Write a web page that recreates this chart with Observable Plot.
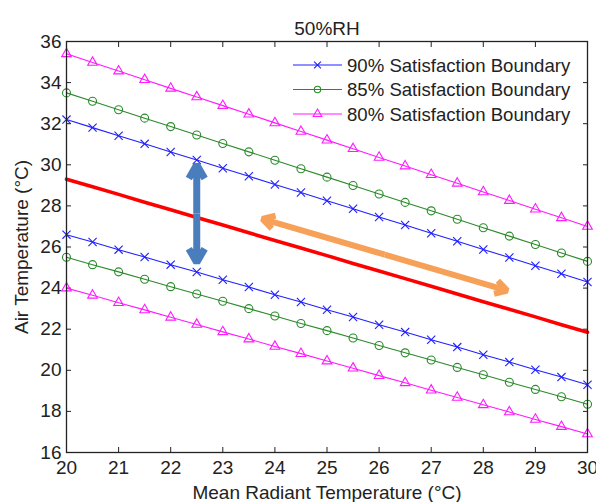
<!DOCTYPE html>
<html><head><meta charset="utf-8">
<script src="https://cdn.jsdelivr.net/npm/d3@7"></script>
<script src="https://cdn.jsdelivr.net/npm/@observablehq/plot@0.6"></script>
<style>
body{margin:0;background:#fff}
#chart{position:relative;width:596px;height:502px}
</style>
</head><body><div id="chart"></div>
<script>
// ---- data ----
const title = "50%RH";
const xLabel = "Mean Radiant Temperature (°C)";
const yLabel = "Air Temperature (°C)";
const xTicks = [20, 21, 22, 23, 24, 25, 26, 27, 28, 29, 30];
const yTicks = [16, 18, 20, 22, 24, 26, 28, 30, 32, 34, 36];
const mrt = [20, 20.5, 21, 21.5, 22, 22.5, 23, 23.5, 24, 24.5, 25, 25.5, 26, 26.5, 27, 27.5, 28, 28.5, 29, 29.5, 30];

const upper80 = [35.40, 34.98, 34.56, 34.14, 33.72, 33.30, 32.88, 32.46, 32.04, 31.62, 31.20, 30.78, 30.36, 29.94, 29.52, 29.10, 28.68, 28.26, 27.84, 27.42, 27.00];
const upper85 = [33.50, 33.09, 32.68, 32.27, 31.86, 31.45, 31.04, 30.63, 30.22, 29.81, 29.40, 28.99, 28.58, 28.17, 27.76, 27.35, 26.94, 26.53, 26.12, 25.71, 25.30];
const upper90 = [32.20, 31.81, 31.41, 31.02, 30.62, 30.23, 29.83, 29.44, 29.04, 28.65, 28.25, 27.86, 27.46, 27.07, 26.67, 26.28, 25.88, 25.49, 25.09, 24.70, 24.30];
const neutral = [29.30, 28.93, 28.56, 28.18, 27.81, 27.44, 27.07, 26.69, 26.32, 25.95, 25.58, 25.20, 24.83, 24.46, 24.09, 23.71, 23.34, 22.97, 22.60, 22.22, 21.85];
const lower90 = [26.60, 26.24, 25.87, 25.51, 25.14, 24.78, 24.41, 24.05, 23.68, 23.32, 22.95, 22.59, 22.22, 21.86, 21.49, 21.13, 20.76, 20.40, 20.03, 19.67, 19.30];
const lower85 = [25.50, 25.14, 24.79, 24.43, 24.07, 23.71, 23.36, 23.00, 22.64, 22.28, 21.93, 21.57, 21.21, 20.85, 20.50, 20.14, 19.78, 19.42, 19.07, 18.71, 18.35];
const lower80 = [24.00, 23.65, 23.29, 22.94, 22.58, 22.23, 21.87, 21.52, 21.16, 20.81, 20.45, 20.10, 19.74, 19.39, 19.03, 18.68, 18.32, 17.97, 17.61, 17.26, 16.90];

const legendLabels = ["90% Satisfaction Boundary", "85% Satisfaction Boundary", "80% Satisfaction Boundary"];

// annotation arrows (data coordinates: start/end)
const blueArrowX = [22.5, 22.5];
const blueArrowY = [30.0, 25.25];
const orangeArrowX = [23.76, 28.46];
const orangeArrowY = [27.37, 23.88];

// ---- styles ----
const seriesColor = {"90": "#2020ff", "85": "#2a8a2a", "80": "#ff1aff"};
const seriesSymbol = {"90": "times", "85": "circle", "80": "triangle"};
const seriesR = {"90": 3.8, "85": 4, "80": 3.6};
const levels = ["90", "85", "80"];

const boundaries = [
  {level: "80", part: "upper", values: upper80},
  {level: "85", part: "upper", values: upper85},
  {level: "90", part: "upper", values: upper90},
  {level: "90", part: "lower", values: lower90},
  {level: "85", part: "lower", values: lower85},
  {level: "80", part: "lower", values: lower80}
];
const rows = boundaries.flatMap(b => b.values.map((v, i) => ({x: mrt[i], y: v, level: b.level, id: b.level + b.part})));
const neutralRows = neutral.map((v, i) => ({x: mrt[i], y: v}));

function dbl(xs, ys) {
  const mx = (xs[0] + xs[1]) / 2, my = (ys[0] + ys[1]) / 2;
  return [{x1: mx, y1: my, x2: xs[0], y2: ys[0]}, {x1: mx, y1: my, x2: xs[1], y2: ys[1]}];
}

const font = "'Liberation Sans', Arial, sans-serif";
const ink = "#222";

const marks = [
  Plot.axisX({anchor: "bottom", ticks: xTicks, tickSize: -5, tickPadding: 13, tickFormat: d => String(d),
    label: xLabel, labelAnchor: "center", labelArrow: "none", labelOffset: 46, stroke: ink, color: ink}),
  Plot.axisX({anchor: "top", ticks: xTicks, tickSize: -5, tickFormat: () => "", label: null, stroke: ink}),
  Plot.axisY({anchor: "left", ticks: yTicks, tickSize: -5, tickPadding: 10, tickFormat: d => String(d),
    label: yLabel, labelAnchor: "center", labelArrow: "none", labelOffset: 52, stroke: ink, color: ink}),
  Plot.axisY({anchor: "right", ticks: yTicks, tickSize: -5, tickFormat: () => "", label: null, stroke: ink}),
  Plot.line(neutralRows, {x: "x", y: "y", stroke: "#ff0000", strokeWidth: 3.6}),
];
for (const lv of levels) {
  const data = rows.filter(r => r.level === lv);
  marks.push(Plot.line(data, {x: "x", y: "y", z: "id", stroke: seriesColor[lv], strokeWidth: 1.1}));
  marks.push(Plot.dot(data, {x: "x", y: "y", symbol: () => seriesSymbol[lv], r: seriesR[lv], stroke: seriesColor[lv], fill: "none", strokeWidth: 1.1}));
}
marks.push(
  Plot.arrow(dbl(blueArrowX, blueArrowY), {x1: "x1", y1: "y1", x2: "x2", y2: "y2", stroke: "#4a7dbb", strokeWidth: 7, headLength: 3.4, strokeLinecap: "butt", strokeLinejoin: "miter"}),
  Plot.arrow(dbl(orangeArrowX, orangeArrowY), {x1: "x1", y1: "y1", x2: "x2", y2: "y2", stroke: "#f7a057", strokeWidth: 6, headLength: 3.4, strokeLinecap: "butt", strokeLinejoin: "miter"}),
  Plot.frame({stroke: ink, strokeWidth: 1.3}),
  Plot.text([title], {frameAnchor: "top", dy: -20, text: d => d, fontSize: 19, fill: ink})
);

const plot = Plot.plot({
  width: 596,
  height: 502,
  marginLeft: 66,
  marginRight: 9,
  marginTop: 41,
  marginBottom: 50,
  x: {domain: [20, 30]},
  y: {domain: [16, 36]},
  style: {fontFamily: font, fontSize: "19px", color: ink, background: "#fff"},
  marks
});
document.getElementById("chart").appendChild(plot);

// ---- legend (inside the axes, top right) ----
const svg = d3.select(plot);
const lg = svg.append("g").attr("font-family", font).attr("font-size", 18.6).attr("text-anchor", "start");
const symMap = {times: d3.symbolTimes, circle: d3.symbolCircle, triangle: d3.symbolTriangle};
legendLabels.forEach((lab, i) => {
  const lv = levels[i];
  const yy = 65 + i * 24.5;
  const g = lg.append("g").attr("transform", `translate(0,${yy})`);
  g.append("line").attr("x1", 293).attr("x2", 342).attr("y1", 0).attr("y2", 0)
    .attr("stroke", seriesColor[lv]).attr("stroke-width", 1.1);
  g.append("path").attr("transform", "translate(317.5,0)")
    .attr("d", d3.symbol(symMap[seriesSymbol[lv]], Math.PI * 3.2 * 3.2)())
    .attr("fill", "none").attr("stroke", seriesColor[lv]).attr("stroke-width", 1.1);
  g.append("text").attr("x", 347).attr("y", 0).attr("dy", "0.35em").attr("fill", ink).text(lab);
});
</script>
</body></html>
